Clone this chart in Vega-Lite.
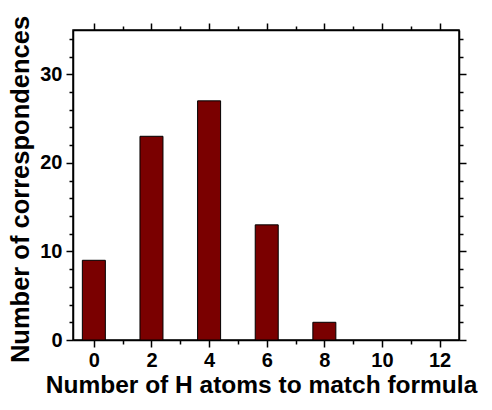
{
  "$schema": "https://vega.github.io/schema/vega-lite/v6.json",
  "width": 386,
  "height": 310,
  "autosize": "none",
  "padding": {"left": 73, "top": 30, "right": 33, "bottom": 70},
  "background": "white",
  "config": {
    "view": {"stroke": "black", "strokeWidth": 1.5},
    "font": "Liberation Sans",
    "axis": {"grid": false, "domainColor": "black", "tickColor": "black", "domainWidth": 1.5, "tickWidth": 1.5, "labelColor": "black", "titleColor": "black"}
  },
  "data": {"values": [
    {"h": 0, "count": 9},
    {"h": 2, "count": 23},
    {"h": 4, "count": 27},
    {"h": 6, "count": 13},
    {"h": 8, "count": 2}
  ]},
  "resolve": {"axis": {"x": "independent", "y": "independent"}},
  "layer": [
    {
      "mark": {"type": "bar", "size": 23, "color": "#7a0000", "stroke": "black", "strokeWidth": 1},
      "encoding": {
        "x": {"field": "h", "type": "quantitative", "scale": {"domain": [-0.55, 12.5], "nice": false, "zero": false},
          "axis": {"orient": "bottom", "values": [0, 2, 4, 6, 8, 10, 12], "tickSize": 7, "labelFontSize": 20, "labelFontWeight": "bold", "labelPadding": 3, "labelFlush": false,
            "title": "Number of H atoms to match formula", "titleFontSize": 24.5, "titleFontWeight": "bold", "titlePadding": 3, "titleX": 188}},
        "y": {"field": "count", "type": "quantitative", "scale": {"domain": [0, 35], "nice": false},
          "axis": {"orient": "left", "values": [0, 10, 20, 30], "tickSize": 7, "labelFontSize": 20, "labelFontWeight": "bold", "labelPadding": 4, "labelFlush": false,
            "title": "Number of correspondences", "titleFontSize": 25.5, "titleFontWeight": "bold", "titlePadding": 6, "titleY": 159}}
      }
    },
    {
      "mark": {"type": "point", "opacity": 0},
      "encoding": {
        "x": {"field": "h", "type": "quantitative", "axis": {"orient": "top", "values": [0, 2, 4, 6, 8, 10, 12], "tickSize": 7, "labels": false, "title": null}},
        "y": {"field": "count", "type": "quantitative", "axis": {"orient": "right", "values": [0, 10, 20, 30], "tickSize": 7, "labels": false, "title": null}}
      }
    },
    {
      "mark": {"type": "point", "opacity": 0},
      "encoding": {
        "x": {"field": "h", "type": "quantitative", "axis": {"orient": "bottom", "values": [1, 3, 5, 7, 9, 11], "tickSize": 4, "domain": false, "labels": false, "title": null}},
        "y": {"field": "count", "type": "quantitative", "axis": {"orient": "left", "values": [2, 4, 6, 8, 12, 14, 16, 18, 22, 24, 26, 28, 32, 34], "tickSize": 4, "domain": false, "labels": false, "title": null}}
      }
    },
    {
      "mark": {"type": "point", "opacity": 0},
      "encoding": {
        "x": {"field": "h", "type": "quantitative", "axis": {"orient": "top", "values": [1, 3, 5, 7, 9, 11], "tickSize": 4, "domain": false, "labels": false, "title": null}},
        "y": {"field": "count", "type": "quantitative", "axis": {"orient": "right", "values": [2, 4, 6, 8, 12, 14, 16, 18, 22, 24, 26, 28, 32, 34], "tickSize": 4, "domain": false, "labels": false, "title": null}}
      }
    }
  ]
}
